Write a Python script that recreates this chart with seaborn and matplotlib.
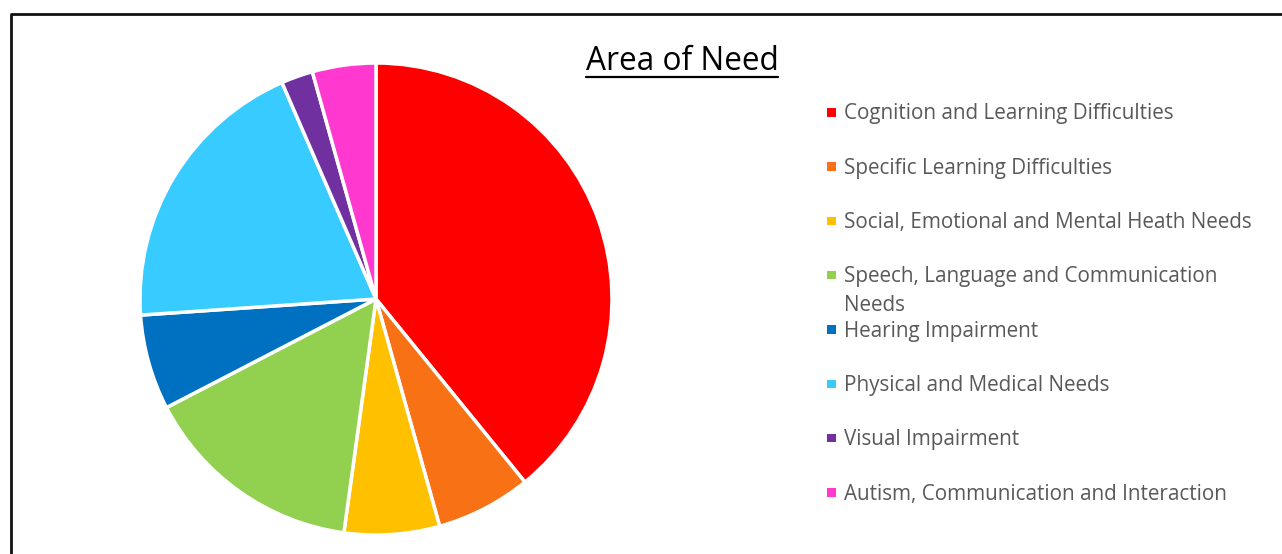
import matplotlib
matplotlib.use("Agg")
import matplotlib.pyplot as plt
import seaborn as sns
from matplotlib.lines import Line2D
from matplotlib.patches import Rectangle

categories = [
    "Cognition and Learning Difficulties",
    "Specific Learning Difficulties",
    "Social, Emotional and Mental Heath Needs",
    "Speech, Language and Communication\nNeeds",
    "Hearing Impairment",
    "Physical and Medical Needs",
    "Visual Impairment",
    "Autism, Communication and Interaction",
]
values = [18, 3, 3, 7, 3, 9, 1, 2]
colors = ["#FF0000", "#F97115", "#FFC000", "#92D050", "#0070C0", "#38CBFF", "#7030A0", "#FF38CF"]
title = "Area of Need"

sns.set_theme(style="white")
plt.rcParams['font.family'] = ['Open Sans', 'DejaVu Sans']

W, H = 1282, 554
fig = plt.figure(figsize=(W / 100, H / 100), dpi=100)
fig.patch.set_facecolor("white")

cx, cy, r = 376, 299, 236
ax = fig.add_axes([(cx - r) / W, 1 - (cy + r) / H, 2 * r / W, 2 * r / H])
palette = sns.color_palette(colors)
ax.pie(values, colors=palette, startangle=90, counterclock=False,
       wedgeprops=dict(edgecolor="white", linewidth=2.5), radius=1.0)
ax.set_xlim(-1, 1)
ax.set_ylim(-1, 1)
ax.set_aspect("equal")
ax.axis("off")

# title with underline
t = fig.text(682 / W, 1 - 62 / H, title, ha="center", va="center", fontsize=22.8, color="black")
fig.canvas.draw()
bb = t.get_window_extent(renderer=fig.canvas.get_renderer())
uy = 1 - 77 / H
fig.add_artist(Line2D([bb.x0 / W, bb.x1 / W], [uy, uy], color="black", lw=1.6, transform=fig.transFigure))

# legend (manual, even spacing like the reference)
y0 = 114
step = 54.3
fs = 14.9
for i, (lab, col) in enumerate(zip(categories, colors)):
    y = y0 + i * step
    fig.add_artist(Rectangle((827 / W, 1 - (y + 2.5) / H), 8.5 / W, 8.5 / H,
                             transform=fig.transFigure, facecolor=col, edgecolor="none"))
    for j, line in enumerate(lab.split("\n")):
        fig.text(844 / W, 1 - (y + j * 29) / H, line, ha="left", va="center",
                 fontsize=fs, color="#595959")

# frame border
fig.add_artist(Line2D([10.5 / W, 10.5 / W, 1.0], [0, 1 - 13.5 / H, 1 - 13.5 / H],
                      color="#111111", lw=2, transform=fig.transFigure))

fig.savefig("out.png", dpi=100, facecolor="white")
